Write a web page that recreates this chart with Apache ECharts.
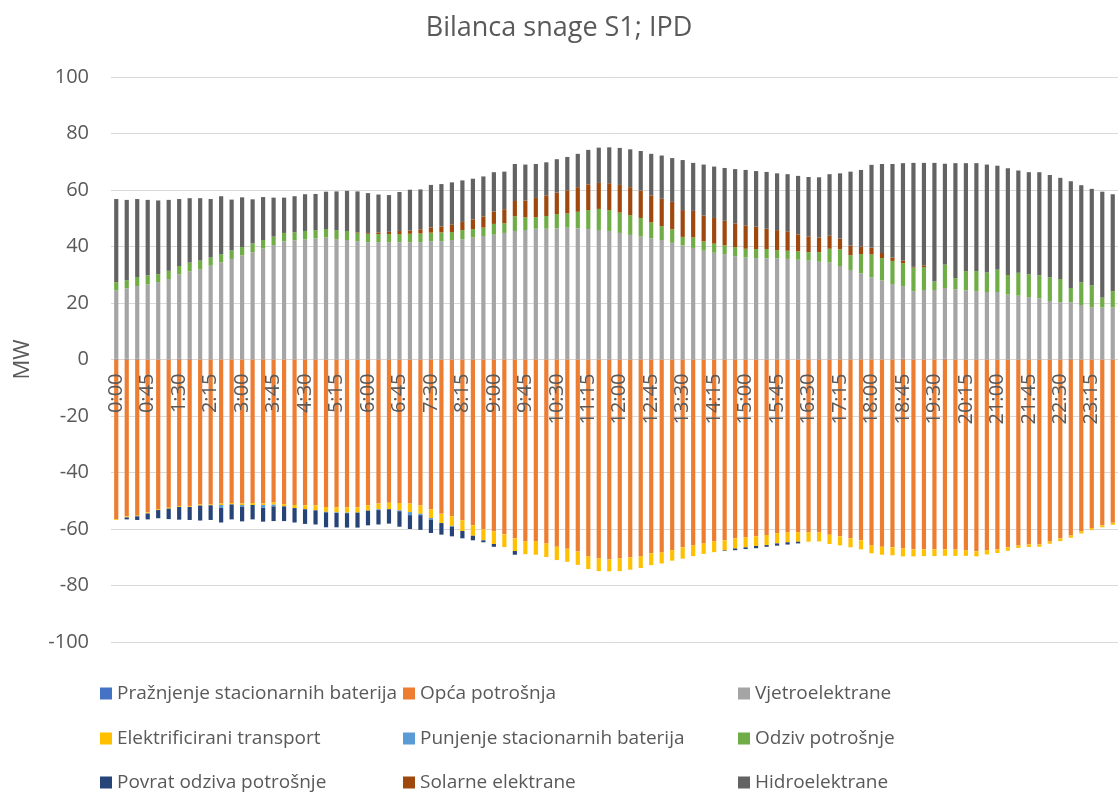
<!DOCTYPE html>
<html>
<head>
<meta charset="utf-8">
<script src="https://cdn.jsdelivr.net/npm/echarts@6/dist/echarts.min.js"></script>
<style>html,body{margin:0;padding:0;background:#fff;}#c{width:1118px;height:796px;}</style>
</head>
<body>
<div id="c"></div>
<script>
const categories = ["0:00","0:15","0:30","0:45","1:00","1:15","1:30","1:45","2:00","2:15","2:30","2:45","3:00","3:15","3:30","3:45","4:00","4:15","4:30","4:45","5:00","5:15","5:30","5:45","6:00","6:15","6:30","6:45","7:00","7:15","7:30","7:45","8:00","8:15","8:30","8:45","9:00","9:15","9:30","9:45","10:00","10:15","10:30","10:45","11:00","11:15","11:30","11:45","12:00","12:15","12:30","12:45","13:00","13:15","13:30","13:45","14:00","14:15","14:30","14:45","15:00","15:15","15:30","15:45","16:00","16:15","16:30","16:45","17:00","17:15","17:30","17:45","18:00","18:15","18:30","18:45","19:00","19:15","19:30","19:45","20:00","20:15","20:30","20:45","21:00","21:15","21:30","21:45","22:00","22:15","22:30","22:45","23:00","23:15","23:30","23:45"];

const yTicks = [-100,-80,-60,-40,-20,0,20,40,60,80,100];

const praznjenje = [0.3,0.3,0.3,0,0,0,0.3,0.3,0,0, 0,0,0,0,0,0,0,0,0,0, 0,0,0,0,0,0,0,0,0,0, 0,0,0,0,0,0,0,0,0,0, 0,0,0,0,0,0,0,0,0,0, 0,0,0,0,0,0,0,0,0,0, 0,0,0,0,0,0,0,0,0,0, 0,0,0,0,0,0.3,0,0,0,0.3, 0,0,0,0,0,0,0,0,0,0, 0,0.3,0,0,0,0];

const opcaPotrosnja = [-56.5,-55.5,-55.3,-54.1,-53.0,-52.5,-51.9,-51.9,-51.3,-51.3,
 -51.0,-50.8,-51.0,-50.8,-50.9,-50.6,-51.2,-51.5,-51.6,-51.6,
 -52.2,-52.3,-52.3,-52.3,-51.6,-51.0,-50.7,-50.8,-51.0,-51.7,
 -53.0,-54.6,-55.5,-56.9,-58.7,-60.1,-60.8,-61.9,-63.3,-64.4,
 -64.4,-65.1,-66.3,-67.0,-68.0,-69.7,-70.4,-70.8,-70.4,-70.1,
 -69.7,-68.6,-68.3,-67.5,-66.5,-65.8,-65.1,-64.4,-64.0,-63.3,
 -63.0,-62.6,-62.1,-61.5,-61.2,-61.2,-61.2,-61.2,-62.0,-62.6,
 -63.3,-64.0,-65.8,-66.3,-66.5,-66.9,-67.2,-67.2,-67.2,-67.2,
 -67.3,-67.6,-67.9,-67.5,-67.2,-66.5,-65.8,-65.5,-65.5,-64.4,
 -63.3,-62.3,-60.8,-59.7,-58.7,-57.8];

const vjetroelektrane = [24.1,24.9,25.7,26.6,27.4,28.5,29.9,30.9,32.0,33.2,
 34.4,35.6,36.9,38.0,39.3,40.5,41.8,42.2,42.5,42.9,
 43.2,42.6,42.3,41.9,41.5,41.5,41.5,41.5,41.5,41.5,
 41.9,41.9,42.3,42.6,43.2,43.7,44.2,44.8,45.5,45.8,
 46.3,46.3,46.5,46.7,46.5,46.2,45.8,45.5,44.8,44.1,
 43.5,42.9,42.3,41.3,40.4,39.5,38.5,37.8,37.3,36.6,
 36.1,35.9,35.8,35.8,35.6,35.3,35.0,34.6,34.3,33.1,
 31.7,30.5,29.1,28.0,26.7,25.7,24.2,24.6,24.6,25.0,
 24.9,24.5,24.2,23.9,23.9,23.0,22.6,22.1,21.6,20.7,
 20.3,20.0,19.3,18.5,18.4,18.5];

const transport = [-0.3,-0.4,-0.2,-0.4,-0.3,-0.3,-0.3,-0.3,-0.4,-0.3,
 -0.5,-0.5,-0.5,-0.7,-0.6,-0.8,-0.8,-1.1,-1.4,-1.8,
 -1.7,-1.8,-1.9,-1.9,-1.9,-2.0,-2.3,-2.6,-3.0,-2.9,
 -3.1,-3.3,-3.4,-3.8,-3.7,-3.9,-4.5,-4.5,-4.5,-4.5,
 -4.7,-4.8,-4.7,-4.6,-4.7,-4.5,-4.5,-4.2,-4.5,-4.3,
 -4.1,-4.2,-3.9,-3.7,-4.0,-3.8,-3.7,-3.8,-3.6,-3.6,
 -3.5,-3.4,-3.6,-3.6,-3.5,-3.3,-3.3,-3.2,-3.3,-3.2,
 -3.2,-3.2,-2.8,-2.8,-2.8,-2.8,-2.5,-2.4,-2.4,-2.3,
 -2.2,-1.9,-1.8,-1.5,-1.3,-1.2,-0.9,-0.9,-0.8,-0.8,
 -1.0,-0.8,-0.8,-0.7,-0.7,-0.7];

const punjenje = [0,0,0,0,0,0,0,0,0,0,
 -1.0,0,-0.6,0,-1.0,-0.6,0,0,0,0,
 -0.2,-0.2,-0.2,0,0,-0.3,0,-0.3,-1.1,-0.5,
 -0.6,0,-0.3,0,0,0,0,0,0,0,
 0,0,0,0,0,0,0,0,0,0, 0,0,0,0,0,0,0,0,0,0,
 0,0,0,0,0,0,0,0,0,0, 0,0,0,0,0,0,0,0,0,0,
 0,0,0,0,0,0,0,0,0,0, 0,0,0,0,0,0];

const odziv = [3.0,2.9,3.2,3.2,2.8,2.9,2.9,3.1,3.0,2.9,
 2.9,3.0,2.9,3.1,3.0,3.0,3.0,2.8,3.0,2.9,
 3.0,3.2,3.2,3.0,3.0,2.9,2.9,2.9,3.0,3.1,
 3.0,3.1,2.8,3.2,3.0,3.0,3.8,3.4,5.2,4.5,
 4.1,4.5,5.0,5.0,5.8,6.7,7.5,7.4,7.2,7.0,
 6.6,5.6,4.9,4.8,3.0,3.7,3.3,3.2,3.1,3.2,
 3.1,3.2,3.3,2.9,2.9,3.0,3.0,3.4,4.9,5.9,
 5.2,6.8,8.1,7.9,8.2,8.1,8.3,8.1,3.0,8.3,
 3.9,6.8,7.1,6.9,7.9,6.9,8.1,8.1,8.2,8.4,
 8.2,5.0,8.0,7.7,3.5,5.7];

const povrat = [0,-0.7,-1.3,-2.1,-2.9,-3.7,-4.5,-4.6,-5.3,-5.2,
 -5.2,-5.3,-5.2,-5.1,-4.9,-5.2,-5.2,-5.1,-5.2,-5.0,
 -5.3,-5.1,-5.1,-5.3,-5.2,-5.1,-5.1,-5.5,-4.9,-5.2,
 -4.7,-4.1,-3.4,-2.6,-1.6,-0.7,-1.0,0,-1.3,0,
 0,0,0,0,0,0,0,0,0,0, 0,0,0,0,0,0,0,0,-0.2,-0.6,
 -0.6,-0.8,-0.6,-0.8,-0.8,-0.6,0,0,0,0,
 0,0,0,0,0,0,0,0,0,0, 0,0,0,0,0,0,0,0,0,0, 0,0,0,0,0,0];

const solarne = [0,0,0,0,0,0,0,0,0,0, 0,0,0,0,0,0,0,0,0,0,
 0,0,0,0.2,0.3,0.6,0.8,1.1,1.1,1.5,
 1.8,2.1,2.6,2.9,3.4,3.9,4.4,5.0,5.4,6.0,
 6.8,7.3,7.6,8.2,8.7,9.1,9.2,9.5,9.8,9.9,
 9.7,9.6,9.7,9.7,9.5,9.4,9.2,9.1,8.7,8.4,
 8.3,7.9,7.2,7.1,6.9,6.0,5.6,5.2,4.6,3.8,
 3.4,2.6,2.4,1.8,1.2,0.9,0.3,0.6,0,0,
 0,0,0,0,0,0,0,0,0,0, 0,0,0,0,0,0];

const hidro = [29.4,28.4,27.6,26.7,26.1,25.1,23.7,22.8,22.1,20.7,
 20.5,18.0,17.6,15.6,15.2,13.8,12.5,12.8,13.0,12.8,
 13.2,13.7,14.2,14.4,14.1,13.4,13.0,13.8,14.5,14.1,
 15.1,15.0,15.0,14.7,14.4,14.2,13.9,13.3,13.1,12.7,
 12.0,11.7,11.8,11.8,11.8,12.2,12.5,12.7,13.1,13.4,
 14.0,14.7,15.3,15.5,17.7,17.0,18.0,18.2,18.7,19.2,
 19.6,19.7,20.1,20.1,20.2,20.7,21.0,21.3,21.8,23.1,
 26.2,27.2,29.3,31.5,33.1,34.5,36.8,36.3,42.0,35.7,
 40.7,38.2,38.2,38.2,36.8,37.8,36.2,36.1,36.5,36.2,
 35.8,37.8,34.4,34.2,37.5,34.3];

const seriesNames = ["Pražnjenje stacionarnih baterija","Opća potrošnja","Vjetroelektrane","Elektrificirani transport","Punjenje stacionarnih baterija","Odziv potrošnje","Povrat odziva potrošnje","Solarne elektrane","Hidroelektrane"];
const seriesData = [praznjenje, opcaPotrosnja, vjetroelektrane, transport, punjenje, odziv, povrat, solarne, hidro];
const colors = ["#4472C4","#ED7D31","#A5A5A5","#FFC000","#5B9BD5","#70AD47","#264478","#9E480E","#636363"];

const FONT = "'Open Sans', 'Noto Sans', sans-serif";
const TXT = "#595959";

const GRID_TOP = 77, GRID_BOTTOM = 154, CHART_H = 796;
const plotH = CHART_H - GRID_TOP - GRID_BOTTOM;
const yMin = yTicks[0], yMax = yTicks[yTicks.length - 1];
// distance from plot bottom to the zero line, so the category axis sits on 0
const zeroOffset = -plotH * (0 - yMin) / (yMax - yMin);

const chart = echarts.init(document.getElementById('c'), null, {renderer: 'canvas'});

const legendLefts = [100, 403, 738];
const legendTops = [684, 729, 773];
const legends = seriesNames.map((n, i) => ({
  data: [n],
  left: legendLefts[i % 3],
  top: legendTops[Math.floor(i / 3)],
  padding: 0,
  orient: 'horizontal',
  icon: 'rect',
  itemWidth: 12,
  itemHeight: 12,
  selectedMode: false,
  textStyle: {fontFamily: FONT, fontSize: 19, color: TXT}
}));

chart.setOption({
  animation: false,
  color: colors,
  title: {
    text: 'Bilanca snage S1; IPD',
    left: 'center',
    top: 10,
    textStyle: {fontFamily: FONT, fontSize: 27, fontWeight: 'normal', color: TXT}
  },
  legend: legends,
  grid: {left: 111, right: -4, top: GRID_TOP, bottom: GRID_BOTTOM, containLabel: false},
  xAxis: {
    type: 'category',
    data: categories,
    position: 'bottom',
    offset: zeroOffset,
    z: 10,
    axisLine: {show: false, onZero: false},
    axisTick: {show: false},
    axisLabel: {
      interval: 2,
      rotate: 90,
      margin: 14,
      fontFamily: FONT,
      fontSize: 20,
      color: TXT
    }
  },
  yAxis: {
    type: 'value',
    min: yMin,
    max: yMax,
    interval: 20,
    name: 'MW',
    nameLocation: 'middle',
    nameRotate: 90,
    nameGap: 77,
    nameTextStyle: {fontFamily: FONT, fontSize: 22, color: TXT},
    axisLine: {show: false},
    axisTick: {show: false},
    axisLabel: {margin: 22, fontFamily: FONT, fontSize: 20, color: TXT},
    splitLine: {lineStyle: {color: '#D9D9D9', width: 1}}
  },
  series: seriesNames.map((n, i) => ({
    name: n,
    type: 'bar',
    stack: 'total',
    barWidth: '40%',
    itemStyle: {color: colors[i]},
    data: seriesData[i]
  }))
});
</script>
</body>
</html>
